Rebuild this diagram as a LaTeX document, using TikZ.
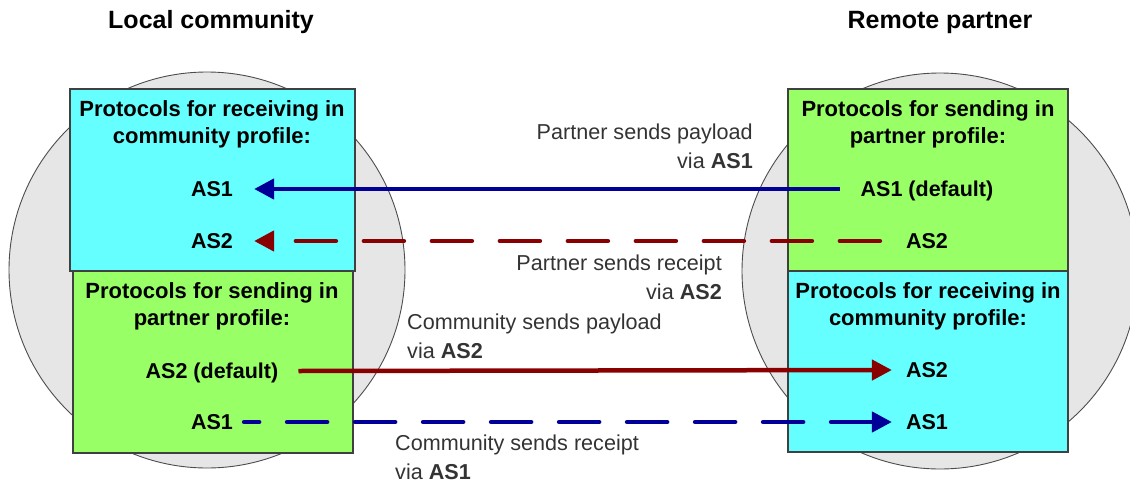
\documentclass[tikz,border=0pt]{standalone}
\usepackage{fontspec}
\setmainfont{Liberation Sans}
\usetikzlibrary{arrows.meta}
\definecolor{boxcyan}{HTML}{66FFFF}
\definecolor{boxgreen}{HTML}{99FF66}
\definecolor{discgray}{HTML}{E6E6E6}
\definecolor{arrblue}{HTML}{000099}
\definecolor{arrred}{HTML}{880000}
\definecolor{labgray}{HTML}{333333}
\tikzset{
  disc/.style={fill=discgray,draw=black!70,line width=0.9pt},
  cbox/.style={fill=boxcyan,draw=black!75,line width=1.2pt},
  gbox/.style={fill=boxgreen,draw=black!75,line width=1.2pt},
  boxtitle/.style={align=center,inner sep=0pt,font=\fontsize{22}{27}\selectfont\bfseries},
  proto/.style={inner sep=0pt,text height=15pt,text depth=0pt,font=\fontsize{21.5}{27}\selectfont\bfseries},
  lab/.style={inner sep=0pt,text=labgray,font=\fontsize{21.6}{29}\selectfont},
  head/.style={inner sep=0pt,font=\fontsize{25}{30}\selectfont\bfseries},
  flow/.style={line width=4.5pt,-{Triangle[length=20pt,width=20pt]}},
  dashflow/.style={flow,line cap=round,dash pattern=on 40pt off 28pt}
}
\begin{document}
\begin{tikzpicture}[x=1pt,y=-1pt]
  \useasboundingbox (0,0) rectangle (1130,482);

  \node[head] (lhead) at (211,22) {Local community};
  \node[head] (rhead) at (940,22) {Remote partner};

  \draw[disc] (207,270) circle (198pt);
  \draw[disc] (940,271) circle (198pt);

  \draw[cbox] (70,89) rectangle (355,271);
  \draw[gbox] (73,271) rectangle (353,453);
  \draw[gbox] (788,89) rectangle (1068,271);
  \draw[cbox] (788,271) rectangle (1068,452);

  \node[boxtitle] (lrtitle) at (212,124) {Protocols for receiving in\\community profile:};
  \node[boxtitle] (lstitle) at (212,306) {Protocols for sending in\\partner profile:};
  \node[boxtitle] (rstitle) at (928,124) {Protocols for sending in\\partner profile:};
  \node[boxtitle] (rrtitle) at (928,306) {Protocols for receiving in\\community profile:};

  \node[proto] (lrA) at (212,189) {AS1};
  \node[proto] (lrB) at (212,241) {AS2};
  \node[proto] (lsB) at (212,371) {AS2 (default)};
  \node[proto] (lsA) at (212,422) {AS1};
  \node[proto] (rsA) at (927,189) {AS1 (default)};
  \node[proto] (rsB) at (927,241) {AS2};
  \node[proto] (rrB) at (927,370) {AS2};
  \node[proto] (rrA) at (927,422) {AS1};

  \draw[flow,arrblue] ([xshift=-21pt]rsA.west) -- ([xshift=21pt]lrA.east);
  \draw[dashflow,arrred] ([xshift=-26pt]rsB.west) -- ([xshift=21pt]lrB.east);
  \draw[flow,arrred] ([xshift=20pt]lsB.east) -- ([xshift=-14pt]rrB.west);
  \draw[dashflow,arrblue,dash phase=25pt] ([xshift=11pt]lsA.east) -- ([xshift=-14pt]rrA.west);

  \node[lab,anchor=east,align=right] (payA) at (753,146) {Partner sends payload\\via \textbf{AS1}};
  \node[lab,anchor=east,align=right] (recB) at (722,277) {Partner sends receipt\\via \textbf{AS2}};
  \node[lab,anchor=west,align=left] (payB) at (407,336) {Community sends payload\\via \textbf{AS2}};
  \node[lab,anchor=west,align=left] (recA) at (395,457) {Community sends receipt\\via \textbf{AS1}};
\end{tikzpicture}
\end{document}
